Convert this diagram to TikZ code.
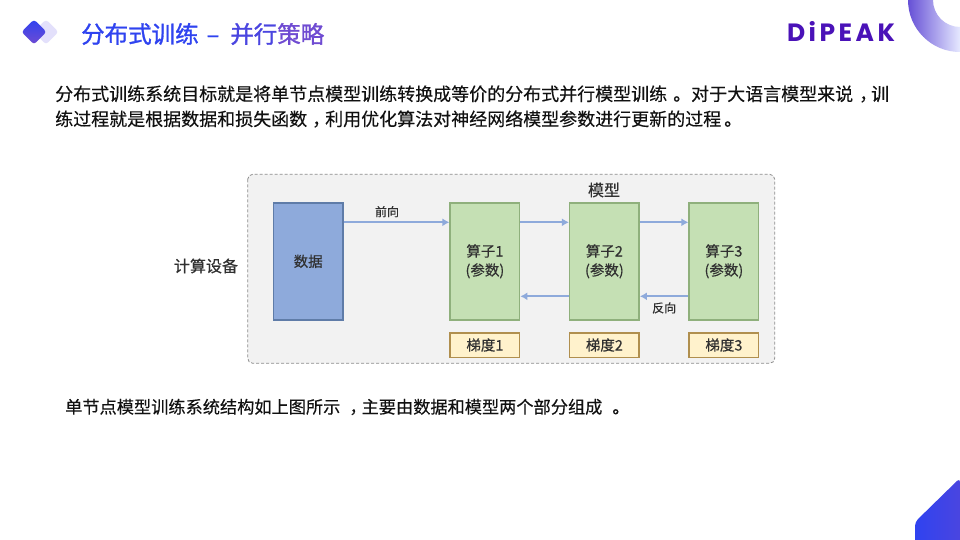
\documentclass[tikz,border=0pt]{standalone}
\usepackage{fontspec}
\setmainfont{Noto Sans CJK SC}
\newfontfamily\titlefont[FakeBold=1.3]{Noto Sans CJK SC}
\newfontfamily\bodyfont[FakeBold=0.25]{Noto Sans CJK SC}
\newfontfamily\figfont[FakeBold=0.35]{Noto Sans CJK SC}
\newfontfamily\logofont[BoldFont=Poppins Bold,LetterSpace=14]{Poppins}
\usetikzlibrary{arrows.meta,calc}
\definecolor{titleblue}{HTML}{2F43F0}
\definecolor{titlemid}{HTML}{4A45E0}
\definecolor{titlepurple}{HTML}{6F4BD2}
\definecolor{logopurple}{HTML}{4A12B8}
\definecolor{arcpurple}{HTML}{6650D6}
\definecolor{arclight}{HTML}{E6E9FF}
\definecolor{iconback}{HTML}{E3E0FB}
\definecolor{inktext}{HTML}{111111}
\definecolor{figtext}{HTML}{303030}
\definecolor{panelfill}{HTML}{F2F2F2}
\definecolor{datafill}{HTML}{8EAADB}
\definecolor{datadraw}{HTML}{5F7CA8}
\definecolor{opfill}{HTML}{C5E0B4}
\definecolor{opdraw}{HTML}{8FB07C}
\definecolor{gradfill}{HTML}{FFF2CC}
\definecolor{graddraw}{HTML}{B08F4E}
\newcommand{\nudged}[2]{\hspace{#1pt}#2\hspace{-#1pt}}
\tikzset{
    bodytext/.style={anchor=west, inner sep=0pt, text=inktext, font=\bodyfont\fontsize{18}{20}\selectfont},
    figlabel/.style={text=figtext, inner sep=0pt, font=\figfont\fontsize{12}{15}\selectfont},
    databox/.style={draw=datadraw, fill=datafill, line width=1.5pt, minimum width=69.5pt, minimum height=117pt, inner sep=0pt, text=figtext, align=center, font=\figfont\fontsize{14.5}{19}\selectfont},
    opbox/.style={databox, draw=opdraw, fill=opfill},
    gradbox/.style={draw=graddraw, fill=gradfill, line width=1.5pt, minimum width=69.5pt, minimum height=24.5pt, inner sep=0pt, text=figtext, font=\figfont\fontsize{14.5}{17}\selectfont},
    flowarrow/.style={draw=datafill, line width=2.2pt, -{Latex[length=7pt,width=8pt]}},
}
\begin{document}
\begin{tikzpicture}[x=1pt,y=-1pt]
    \useasboundingbox (0,0) rectangle (960,540);
    \fill[white] (0,0) rectangle (960,540);
    % corner pieces
    \shade[left color=arcpurple, right color=arclight]
        (908,0) arc[start angle=180, end angle=90, radius=52] -- (960,27) arc[start angle=90, end angle=180, radius=27] -- cycle;
    \shade[left color=titleblue, right color=titlemid, rounded corners=4pt]
        (960,478) -- (915,522) -- (915,545) -- (960,545) -- cycle;
    % title
    \fill[iconback, rounded corners=3pt] (46,19.5) -- (58.5,32) -- (46,44.5) -- (33.5,32) -- cycle;
    \shade[top color=titleblue, bottom color=titlepurple, rounded corners=3pt] (34,19.5) -- (46.5,32) -- (34,44.5) -- (21.5,32) -- cycle;
    \node[anchor=west, inner sep=0pt, font=\titlefont\fontsize{23.5}{26}\selectfont] (title) at (81,34)
        {\textcolor{titleblue}{分布式训练\hspace{8pt}–\hspace{11pt}}\textcolor{titlemid}{并行}\textcolor{titlepurple}{策略}};
    \node[inner sep=0pt, text=logopurple, font=\logofont\bfseries\fontsize{25}{28}\selectfont] (logo) at (841,31) {DiPEAK};
    % text lines
    \node[bodytext] (lineA) at (55,94) {分布式训练系统目标就是将单节点模型训练转换成等价的分布式并行模型训练\hspace{6pt}。对于大语言模型来说\nudged{6}{，}训};
    \node[bodytext] (lineB) at (55,119) {练过程就是根据数据和损失函数\nudged{5}{，}利用优化算法对神经网络模型参数进行更新的过程\nudged{3}{。}};
    \node[bodytext, font=\bodyfont\fontsize{17.2}{20}\selectfont] (lineC) at (65,407) {单节点模型训练系统结构如上图所示\hspace{4pt}\nudged{5}{，}主要由数据和模型两个部分组成\nudged{10}{。}};
    % figure
    \draw[fill=panelfill, draw=black!45, densely dashed, rounded corners=5pt, line width=0.8pt] (247.7,174.3) rectangle (774.7,363.3);
    \node[figlabel, font=\figfont\fontsize{16}{18}\selectfont] (device) at (206,266) {计算设备};
    \node[figlabel, font=\figfont\fontsize{16}{18}\selectfont] (model) at (604,190) {模型};
    \node[databox] (data) at (308.2,261.3) {数据};
    \node[opbox] (opA) at (484.9,261.3) {算子1\\(参数)};
    \node[opbox] (opB) at (604.4,261.3) {算子2\\(参数)};
    \node[opbox] (opC) at (723.9,261.3) {算子3\\(参数)};
    \node[gradbox] (gradA) at (484.9,345) {梯度1};
    \node[gradbox] (gradB) at (604.4,345) {梯度2};
    \node[gradbox] (gradC) at (723.9,345) {梯度3};
    \draw[flowarrow] ([yshift=39pt]data.east) -- node[pos=0.41, above=4pt, figlabel] (forward) {前向} ([yshift=39pt]opA.west);
    \draw[flowarrow] ([yshift=39pt]opA.east) -- ([yshift=39pt]opB.west);
    \draw[flowarrow] ([yshift=39pt]opB.east) -- ([yshift=39pt]opC.west);
    \draw[flowarrow] ([yshift=-35pt]opB.west) -- ([yshift=-35pt]opA.east);
    \draw[flowarrow] ([yshift=-35pt]opC.west) -- node[below=5pt, figlabel] (backward) {反向} ([yshift=-35pt]opB.east);
\end{tikzpicture}
\end{document}
